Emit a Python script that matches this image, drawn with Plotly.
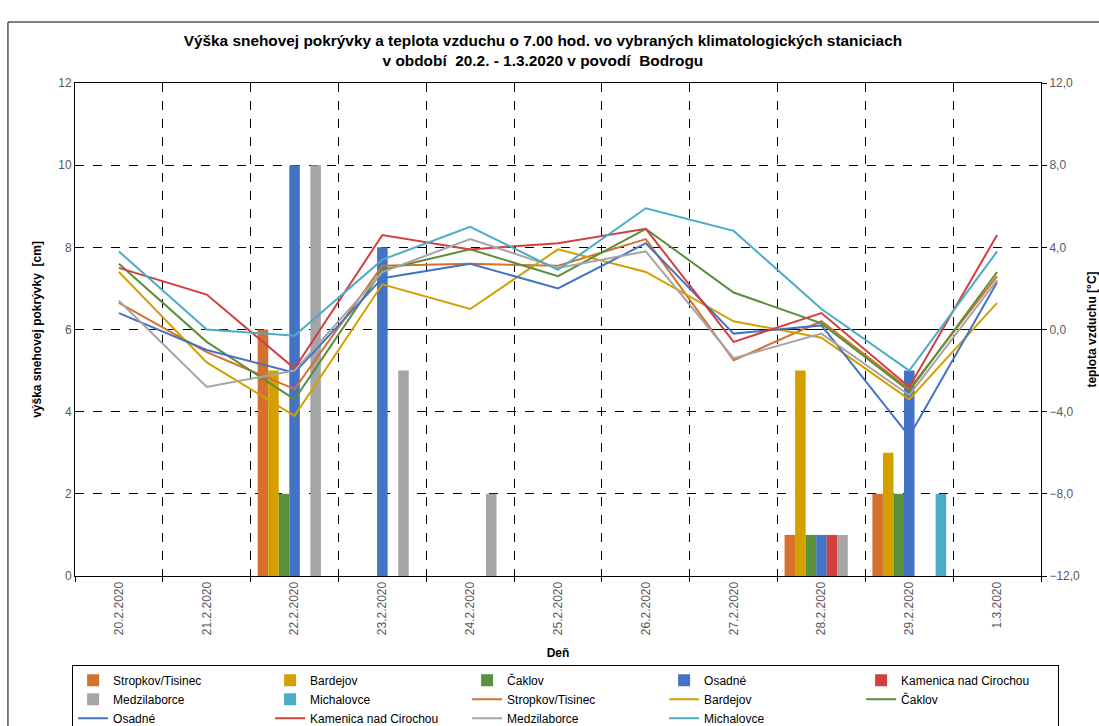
import plotly.graph_objects as go

dates = ["20.2.2020", "21.2.2020", "22.2.2020", "23.2.2020", "24.2.2020", "25.2.2020",
         "26.2.2020", "27.2.2020", "28.2.2020", "29.2.2020", "1.3.2020"]
stations = ["Stropkov/Tisinec", "Bardejov", "Čaklov", "Osadné",
            "Kamenica nad Cirochou", "Medzilaborce", "Michalovce"]
colors = ["#D5702E", "#D4A000", "#5A8F3C", "#4472C4", "#D13F3F", "#A5A5A5", "#4BACC6"]

snow_stropkov = [0, 0, 6, 0, 0, 0, 0, 0, 1, 2, 0]
snow_bardejov = [0, 0, 5, 0, 0, 0, 0, 0, 5, 3, 0]
snow_caklov = [0, 0, 2, 0, 0, 0, 0, 0, 1, 2, 0]
snow_osadne = [0, 0, 10, 8, 0, 0, 0, 0, 1, 5, 0]
snow_kamenica = [0, 0, 0, 0, 0, 0, 0, 0, 1, 0, 0]
snow_medzilaborce = [0, 0, 10, 5, 2, 0, 0, 0, 1, 0, 0]
snow_michalovce = [0, 0, 0, 0, 0, 0, 0, 0, 0, 2, 0]

temp_stropkov = [1.3, -1.1, -2.9, 3.1, 3.2, 3.1, 4.4, -1.5, 0.4, -2.9, 2.6]
temp_bardejov = [2.8, -1.6, -4.2, 2.2, 1.0, 3.9, 2.8, 0.4, -0.4, -3.4, 1.3]
temp_caklov = [3.2, -0.6, -3.4, 2.9, 3.9, 2.6, 4.9, 1.8, 0.3, -3.0, 2.8]
temp_osadne = [0.8, -1.0, -2.1, 2.5, 3.2, 2.0, 4.2, -0.2, 0.2, -5.2, 2.3]
temp_kamenica = [3.0, 1.7, -1.9, 4.6, 3.9, 4.2, 4.9, -0.6, 0.8, -2.8, 4.6]
temp_medzilaborce = [1.4, -2.8, -2.0, 2.8, 4.4, 3.0, 3.8, -1.4, -0.2, -3.2, 2.4]
temp_michalovce = [3.8, 0.0, -0.3, 3.4, 5.0, 2.9, 5.9, 4.8, 1.0, -2.0, 3.8]

snow = [snow_stropkov, snow_bardejov, snow_caklov, snow_osadne,
        snow_kamenica, snow_medzilaborce, snow_michalovce]
temp = [temp_stropkov, temp_bardejov, temp_caklov, temp_osadne,
        temp_kamenica, temp_medzilaborce, temp_michalovce]

FONT = "Liberation Sans, Arial, sans-serif"
TICKC = "#595959"

fig = go.Figure()
for name, vals, c in zip(stations, snow, colors):
    fig.add_trace(go.Bar(x=dates, y=vals, name=name, marker=dict(color=c, line=dict(width=0)),
                         yaxis="y"))
for name, vals, c in zip(stations, temp, colors):
    fig.add_trace(go.Scatter(x=dates, y=vals, name=name, mode="lines",
                             line=dict(color=c, width=2), yaxis="y2"))

fig.update_layout(
    width=1099, height=726,
    template="none",
    paper_bgcolor="white", plot_bgcolor="white",
    margin=dict(l=75, r=58, t=83, b=150, autoexpand=False),
    font=dict(family=FONT, size=12, color="black"),
    separators=", ",
    barmode="group", bargap=0.16, bargroupgap=0,
    title=dict(
        text="Výška snehovej pokrývky a teplota vzduchu o 7.00 hod. vo vybraných klimatologických staniciach<br>v období  20.2. - 1.3.2020 v povodí  Bodrogu",
        x=0.494, xanchor="center", y=0.937, yanchor="top",
        font=dict(family=FONT, size=15.4, color="black", weight="bold"),
    ),
    xaxis=dict(
        type="category", range=[-0.5, 10.5], automargin=False,
        tickson="boundaries", ticks="outside", ticklen=5, tickcolor="black",
        showgrid=True, gridcolor="black", griddash="dash", gridwidth=1,
        showline=True, linecolor="black", linewidth=1, mirror=True,
        tickangle=-90, tickfont=dict(family=FONT, size=12, color=TICKC),
        title=dict(text="Deň", standoff=14, font=dict(family=FONT, size=12, color="black", weight="bold")),
        zeroline=False,
    ),
    yaxis=dict(
        range=[0, 12], dtick=2, automargin=False,
        showgrid=True, gridcolor="black", griddash="dash", gridwidth=1,
        showline=True, linecolor="black", linewidth=1, ticks="",
        tickfont=dict(family=FONT, size=12, color=TICKC),
        title=dict(text="výška snehovej pokrývky  [cm]", standoff=14,
                   font=dict(family=FONT, size=12, color="black", weight="bold")),
        zeroline=False,
    ),
    yaxis2=dict(
        overlaying="y", side="right", range=[-12, 12], dtick=4, tickformat=".1f",
        automargin=False, showgrid=False, zeroline=False,
        showline=True, linecolor="black", linewidth=1,
        ticks="outside", ticklen=5, tickcolor="black",
        tickfont=dict(family=FONT, size=12, color=TICKC),
        title=dict(text="teplota vzduchu [°C]", standoff=12,
                   font=dict(family=FONT, size=12, color="black", weight="bold")),
    ),
    legend=dict(
        orientation="h", x=-0.003, xanchor="left", y=-0.18, yanchor="top",
        bordercolor="black", borderwidth=1, bgcolor="white",
        font=dict(family=FONT, size=12, color="black"),
        entrywidth=152, entrywidthmode="pixels", traceorder="normal",
        tracegroupgap=0, itemwidth=30,
    ),
    shapes=[
        dict(type="line", xref="x", yref="y2", x0=3, x1=10.5, y0=0, y1=0,
             line=dict(color="black", width=1), layer="below"),
        dict(type="rect", xref="paper", yref="paper", x0=-0.0694, x1=1.07, y0=-0.35, y1=1.1237,
             line=dict(color="black", width=1), fillcolor="rgba(0,0,0,0)", layer="below"),
    ],
)

fig.write_html("out.html")
